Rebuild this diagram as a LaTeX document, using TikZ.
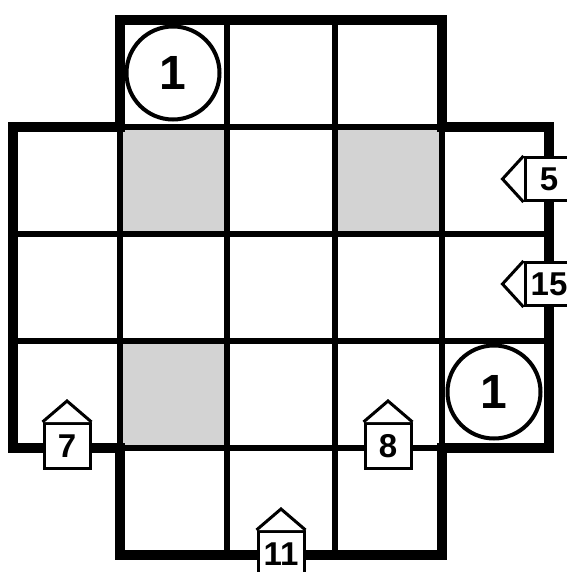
\documentclass[tikz,border=0pt]{standalone}
\usepackage{fontspec}
\setmainfont{Liberation Sans}
\usetikzlibrary{calc}
\begin{document}
\begin{tikzpicture}[x=1pt,y=1pt,
  thinline/.style={line width=6pt},
  thickline/.style={line width=10pt,line join=miter},
  graycell/.style={fill=cellgray},
  ringnum/.style={circle,draw,line width=4pt,fill=white,minimum size=93pt,inner sep=0pt,
    font=\fontsize{48}{48}\selectfont\bfseries},
  cluebox/.style={rectangle,draw,line width=3pt,fill=white,minimum width=46pt,minimum height=45pt,inner sep=0pt,
    font=\fontsize{33}{33}\selectfont\bfseries},
  cluetip/.style={draw,line width=3pt,fill=white,line join=miter}
]
\definecolor{cellgray}{RGB}{211,211,211}
\useasboundingbox (0,0) rectangle (566,-572);
\fill[white] (0,0) rectangle (566,-572);
% gray cells
\fill[graycell] (120,-127) rectangle (227,-234);
\fill[graycell] (335,-127) rectangle (442,-234);
\fill[graycell] (120,-341) rectangle (227,-448);
% interior lines
\draw[thinline] (227,-20) -- (227,-555);
\draw[thinline] (335,-20) -- (335,-555);
\draw[thinline] (120,-127) -- (120,-448);
\draw[thinline] (442,-127) -- (442,-448);
\draw[thinline] (13,-234) -- (549,-234);
\draw[thinline] (13,-341) -- (549,-341);
\draw[thinline] (120,-127) -- (442,-127);
\draw[thinline] (120,-448) -- (442,-448);
% outline
\draw[thickline] (120,-20) -- (442,-20) -- (442,-127) -- (549,-127) -- (549,-448)
  -- (442,-448) -- (442,-555) -- (120,-555) -- (120,-448) -- (13,-448)
  -- (13,-127) -- (120,-127) -- cycle;
% circles
\node[ringnum] (ra) at (173,-73) {1};
\node[ringnum] (rb) at (494,-392) {1};
% clues pointing up
\node[cluebox] (c7) at (67,-446) {7};
\node[cluebox] (c8) at (388,-446) {8};
\node[cluebox] (c11) at (281,-554) {11};
\draw[cluetip] (c7.north west) -- ($(c7.north)+(0,21)$) -- (c7.north east);
\draw[cluetip] (c8.north west) -- ($(c8.north)+(0,21)$) -- (c8.north east);
\draw[cluetip] (c11.north west) -- ($(c11.north)+(0,21)$) -- (c11.north east);
% clues pointing left
\node[cluebox,minimum width=48pt,minimum height=43pt] (c5) at (549,-179) {5};
\node[cluebox,minimum width=48pt,minimum height=43pt] (c15) at (549,-284) {15};
\draw[cluetip] (c5.north west) -- ($(c5.west)+(-21,0)$) -- (c5.south west);
\draw[cluetip] (c15.north west) -- ($(c15.west)+(-21,0)$) -- (c15.south west);
\end{tikzpicture}
\end{document}
